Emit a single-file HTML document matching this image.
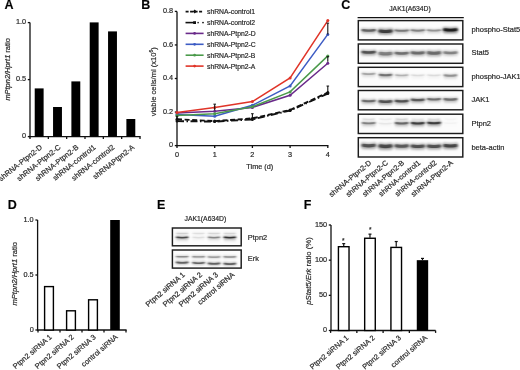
<!DOCTYPE html>
<html><head><meta charset="utf-8"><style>
html,body{margin:0;padding:0;background:#fff;}
body{width:520px;height:370px;overflow:hidden;}
svg{display:block;font-family:"Liberation Sans", sans-serif;will-change:transform;filter:blur(0.3px);}
text{stroke:#333;stroke-width:0.2px;}
</style></head><body>
<svg width="520" height="370" viewBox="0 0 520 370">
<rect width="520" height="370" fill="#fff"/>
<text x="4.6" y="8.5" font-size="12.5" text-anchor="start" font-weight="bold" fill="#000">A</text>
<line x1="30" y1="22.6" x2="30" y2="137.2" stroke="#111" stroke-width="1.3"/>
<line x1="27.8" y1="22.599999999999994" x2="30" y2="22.599999999999994" stroke="#111" stroke-width="1.3"/>
<text x="26.1" y="24.199999999999996" font-size="7.3" text-anchor="end" font-weight="normal" fill="#222">1.0</text>
<line x1="27.8" y1="79.6" x2="30" y2="79.6" stroke="#111" stroke-width="1.3"/>
<text x="26.1" y="81.19999999999999" font-size="7.3" text-anchor="end" font-weight="normal" fill="#222">0.5</text>
<line x1="27.8" y1="136.6" x2="30" y2="136.6" stroke="#111" stroke-width="1.3"/>
<text x="26.1" y="138.2" font-size="7.3" text-anchor="end" font-weight="normal" fill="#222">0</text>
<line x1="29.4" y1="136.6" x2="140.6" y2="136.6" stroke="#111" stroke-width="1.3"/>
<line x1="30.0" y1="136.6" x2="30.0" y2="139.0" stroke="#111" stroke-width="1.3"/>
<line x1="48.33333333333333" y1="136.6" x2="48.33333333333333" y2="139.0" stroke="#111" stroke-width="1.3"/>
<line x1="66.66666666666666" y1="136.6" x2="66.66666666666666" y2="139.0" stroke="#111" stroke-width="1.3"/>
<line x1="85.0" y1="136.6" x2="85.0" y2="139.0" stroke="#111" stroke-width="1.3"/>
<line x1="103.33333333333333" y1="136.6" x2="103.33333333333333" y2="139.0" stroke="#111" stroke-width="1.3"/>
<line x1="121.66666666666666" y1="136.6" x2="121.66666666666666" y2="139.0" stroke="#111" stroke-width="1.3"/>
<line x1="140.0" y1="136.6" x2="140.0" y2="139.0" stroke="#111" stroke-width="1.3"/>
<rect x="34.71666666666666" y="88.4" width="8.9" height="48.19999999999999" fill="#000" stroke="none" stroke-width="0"/>
<text x="42.766666666666666" y="148.2" font-size="7.45" text-anchor="end" font-weight="normal" fill="#222" transform="rotate(-38.5 42.766666666666666 148.2)">shRNA-Ptpn2-D</text>
<rect x="53.05" y="107" width="8.9" height="29.599999999999994" fill="#000" stroke="none" stroke-width="0"/>
<text x="61.1" y="148.2" font-size="7.45" text-anchor="end" font-weight="normal" fill="#222" transform="rotate(-38.5 61.1 148.2)">shRNA-Ptpn2-C</text>
<rect x="71.38333333333333" y="81.4" width="8.9" height="55.19999999999999" fill="#000" stroke="none" stroke-width="0"/>
<text x="79.13333333333333" y="148.2" font-size="7.45" text-anchor="end" font-weight="normal" fill="#222" transform="rotate(-38.5 79.13333333333333 148.2)">shRNA-Ptpn2-B</text>
<rect x="89.71666666666665" y="22.4" width="8.9" height="114.19999999999999" fill="#000" stroke="none" stroke-width="0"/>
<text x="96.26666666666665" y="148.2" font-size="7.45" text-anchor="end" font-weight="normal" fill="#222" transform="rotate(-38.5 96.26666666666665 148.2)">shRNA-control1</text>
<rect x="108.05" y="31.4" width="8.9" height="105.19999999999999" fill="#000" stroke="none" stroke-width="0"/>
<text x="115.1" y="148.2" font-size="7.45" text-anchor="end" font-weight="normal" fill="#222" transform="rotate(-38.5 115.1 148.2)">shRNA-control2</text>
<rect x="126.38333333333331" y="119" width="8.9" height="17.599999999999994" fill="#000" stroke="none" stroke-width="0"/>
<text x="134.83333333333331" y="148.2" font-size="7.45" text-anchor="end" font-weight="normal" fill="#222" transform="rotate(-38.5 134.83333333333331 148.2)">shRNAPtpn2-A</text>
<text x="0" y="0" font-size="7.45" text-anchor="middle" fill="#222" transform="translate(9.8 69.4) rotate(-90)"><tspan font-style="italic">mPtpn2/Hprt1</tspan> ratio</text>
<text x="141.3" y="8.5" font-size="12.5" text-anchor="start" font-weight="bold" fill="#000">B</text>
<line x1="177" y1="11.4" x2="177" y2="146.2" stroke="#111" stroke-width="1.3"/>
<line x1="174.8" y1="145.6" x2="177" y2="145.6" stroke="#111" stroke-width="1.3"/>
<text x="173.1" y="147.2" font-size="7.3" text-anchor="end" font-weight="normal" fill="#222">0</text>
<line x1="174.8" y1="112.04999999999998" x2="177" y2="112.04999999999998" stroke="#111" stroke-width="1.3"/>
<text x="173.1" y="113.64999999999998" font-size="7.3" text-anchor="end" font-weight="normal" fill="#222">0.2</text>
<line x1="174.8" y1="78.49999999999999" x2="177" y2="78.49999999999999" stroke="#111" stroke-width="1.3"/>
<text x="173.1" y="80.09999999999998" font-size="7.3" text-anchor="end" font-weight="normal" fill="#222">0.4</text>
<line x1="174.8" y1="44.95" x2="177" y2="44.95" stroke="#111" stroke-width="1.3"/>
<text x="173.1" y="46.550000000000004" font-size="7.3" text-anchor="end" font-weight="normal" fill="#222">0.6</text>
<line x1="174.8" y1="11.399999999999977" x2="177" y2="11.399999999999977" stroke="#111" stroke-width="1.3"/>
<text x="173.1" y="12.999999999999977" font-size="7.3" text-anchor="end" font-weight="normal" fill="#222">0.8</text>
<line x1="176.4" y1="145.6" x2="328.40000000000003" y2="145.6" stroke="#111" stroke-width="1.3"/>
<line x1="177.0" y1="145.6" x2="177.0" y2="148.0" stroke="#111" stroke-width="1.3"/>
<text x="177.0" y="157.0" font-size="7.3" text-anchor="middle" font-weight="normal" fill="#222">0</text>
<line x1="214.7" y1="145.6" x2="214.7" y2="148.0" stroke="#111" stroke-width="1.3"/>
<text x="214.7" y="157.0" font-size="7.3" text-anchor="middle" font-weight="normal" fill="#222">1</text>
<line x1="252.4" y1="145.6" x2="252.4" y2="148.0" stroke="#111" stroke-width="1.3"/>
<text x="252.4" y="157.0" font-size="7.3" text-anchor="middle" font-weight="normal" fill="#222">2</text>
<line x1="290.1" y1="145.6" x2="290.1" y2="148.0" stroke="#111" stroke-width="1.3"/>
<text x="290.1" y="157.0" font-size="7.3" text-anchor="middle" font-weight="normal" fill="#222">3</text>
<line x1="327.8" y1="145.6" x2="327.8" y2="148.0" stroke="#111" stroke-width="1.3"/>
<text x="327.8" y="157.0" font-size="7.3" text-anchor="middle" font-weight="normal" fill="#222">4</text>
<text x="259.8" y="168.9" font-size="7.3" text-anchor="middle" font-weight="normal" fill="#222">Time (d)</text>
<text x="0" y="0" font-size="7.55" text-anchor="middle" fill="#222" transform="translate(156 81.8) rotate(-90)">viable cells/ml (x10<tspan font-size="5" dy="-3">6</tspan><tspan dy="3">)</tspan></text>
<polyline points="177.0,119.3 214.7,121.1 252.4,118.4 290.1,110.0 327.8,92.6" fill="none" stroke="#111" stroke-width="1.9" stroke-dasharray="5,2.6"/>
<circle cx="177.0" cy="119.3" r="1.5" fill="#111"/>
<circle cx="214.7" cy="121.1" r="1.5" fill="#111"/>
<circle cx="252.4" cy="118.4" r="1.5" fill="#111"/>
<circle cx="290.1" cy="110.0" r="1.5" fill="#111"/>
<circle cx="327.8" cy="92.6" r="1.5" fill="#111"/>
<polyline points="177.0,121.1 214.7,121.6 252.4,119.4 290.1,110.5 327.8,93.6" fill="none" stroke="#111" stroke-width="1.9" stroke-dasharray="7,2.5,1.5,2.5"/>
<circle cx="177.0" cy="121.1" r="1.5" fill="#111"/>
<circle cx="214.7" cy="121.6" r="1.5" fill="#111"/>
<circle cx="252.4" cy="119.4" r="1.5" fill="#111"/>
<circle cx="290.1" cy="110.5" r="1.5" fill="#111"/>
<circle cx="327.8" cy="93.6" r="1.5" fill="#111"/>
<polyline points="177.0,112.9 214.7,111.2 252.4,107.4 290.1,95.3 327.8,63.2" fill="none" stroke="#6a2a8a" stroke-width="1.5"/>
<circle cx="177.0" cy="112.9" r="1.5" fill="#6a2a8a"/>
<circle cx="214.7" cy="111.2" r="1.5" fill="#6a2a8a"/>
<circle cx="252.4" cy="107.4" r="1.5" fill="#6a2a8a"/>
<circle cx="290.1" cy="95.3" r="1.5" fill="#6a2a8a"/>
<circle cx="327.8" cy="63.2" r="1.5" fill="#6a2a8a"/>
<polyline points="177.0,114.6 214.7,116.2 252.4,105.3 290.1,86.0 327.8,34.4" fill="none" stroke="#3d5cc4" stroke-width="1.5"/>
<circle cx="177.0" cy="114.6" r="1.5" fill="#3d5cc4"/>
<circle cx="214.7" cy="116.2" r="1.5" fill="#3d5cc4"/>
<circle cx="252.4" cy="105.3" r="1.5" fill="#3d5cc4"/>
<circle cx="290.1" cy="86.0" r="1.5" fill="#3d5cc4"/>
<circle cx="327.8" cy="34.4" r="1.5" fill="#3d5cc4"/>
<polyline points="177.0,115.4 214.7,113.7 252.4,106.7 290.1,91.9 327.8,55.9" fill="none" stroke="#4b9a4b" stroke-width="1.5"/>
<circle cx="177.0" cy="115.4" r="1.5" fill="#4b9a4b"/>
<circle cx="214.7" cy="113.7" r="1.5" fill="#4b9a4b"/>
<circle cx="252.4" cy="106.7" r="1.5" fill="#4b9a4b"/>
<circle cx="290.1" cy="91.9" r="1.5" fill="#4b9a4b"/>
<circle cx="327.8" cy="55.9" r="1.5" fill="#4b9a4b"/>
<polyline points="177.0,112.4 214.7,107.5 252.4,101.6 290.1,78.0 327.8,20.6" fill="none" stroke="#e03428" stroke-width="1.5"/>
<circle cx="177.0" cy="112.4" r="1.5" fill="#e03428"/>
<circle cx="214.7" cy="107.5" r="1.5" fill="#e03428"/>
<circle cx="252.4" cy="101.6" r="1.5" fill="#e03428"/>
<circle cx="290.1" cy="78.0" r="1.5" fill="#e03428"/>
<circle cx="327.8" cy="20.6" r="1.5" fill="#e03428"/>
<line x1="214.7" y1="110.3725" x2="214.7" y2="104.16575" stroke="#111" stroke-width="1.1"/>
<line x1="213.39999999999998" y1="104.16575" x2="216.0" y2="104.16575" stroke="#111" stroke-width="1.0"/>
<line x1="327.8" y1="34.38174999999998" x2="327.8" y2="23.1425" stroke="#111" stroke-width="1.1"/>
<line x1="326.5" y1="23.1425" x2="329.1" y2="23.1425" stroke="#111" stroke-width="1.0"/>
<line x1="327.8" y1="92.9265" x2="327.8" y2="86.04875" stroke="#111" stroke-width="1.1"/>
<line x1="326.5" y1="86.04875" x2="329.1" y2="86.04875" stroke="#111" stroke-width="1.0"/>
<line x1="327.8" y1="61.724999999999994" x2="327.8" y2="56.692499999999995" stroke="#111" stroke-width="1.1"/>
<line x1="326.5" y1="56.692499999999995" x2="329.1" y2="56.692499999999995" stroke="#111" stroke-width="1.0"/>
<line x1="252.4" y1="120.4375" x2="252.4" y2="113.72749999999999" stroke="#111" stroke-width="1.1"/>
<line x1="251.1" y1="113.72749999999999" x2="253.70000000000002" y2="113.72749999999999" stroke="#111" stroke-width="1.0"/>
<line x1="177.0" y1="118.75999999999999" x2="177.0" y2="116.24374999999999" stroke="#111" stroke-width="1.1"/>
<line x1="175.7" y1="116.24374999999999" x2="178.3" y2="116.24374999999999" stroke="#111" stroke-width="1.0"/>
<line x1="185.6" y1="11.6" x2="203" y2="11.6" stroke="#111" stroke-width="1.6" stroke-dasharray="3,1.5"/>
<path d="M194.7 9.6 L196.7 11.6 L194.7 13.6 L192.7 11.6 Z" fill="#111"/>
<text x="207" y="14.1" font-size="6.8" text-anchor="start" font-weight="normal" fill="#222">shRNA-control1</text>
<line x1="185.5" y1="22.6" x2="194" y2="22.6" stroke="#111" stroke-width="1.6"/>
<rect x="193.2" y="21.200000000000003" width="2.8" height="2.8" fill="#111"/>
<rect x="197.4" y="21.900000000000002" width="1.4" height="1.4" fill="#111"/>
<rect x="202.2" y="21.900000000000002" width="1.6" height="1.4" fill="#111"/>
<text x="207" y="25.1" font-size="6.8" text-anchor="start" font-weight="normal" fill="#222">shRNA-control2</text>
<line x1="185.6" y1="33.4" x2="203.6" y2="33.4" stroke="#6a2a8a" stroke-width="1.6"/>
<circle cx="194.6" cy="33.4" r="1.4" fill="#6a2a8a"/>
<text x="207" y="35.9" font-size="6.8" text-anchor="start" font-weight="normal" fill="#222">shRNA-Ptpn2-D</text>
<line x1="185.6" y1="44.3" x2="203.6" y2="44.3" stroke="#3d5cc4" stroke-width="1.6"/>
<circle cx="194.6" cy="44.3" r="1.4" fill="#3d5cc4"/>
<text x="207" y="46.8" font-size="6.8" text-anchor="start" font-weight="normal" fill="#222">shRNA-Ptpn2-C</text>
<line x1="185.6" y1="55.2" x2="203.6" y2="55.2" stroke="#4b9a4b" stroke-width="1.6"/>
<circle cx="194.6" cy="55.2" r="1.4" fill="#4b9a4b"/>
<text x="207" y="57.7" font-size="6.8" text-anchor="start" font-weight="normal" fill="#222">shRNA-Ptpn2-B</text>
<line x1="185.6" y1="66.1" x2="203.6" y2="66.1" stroke="#e03428" stroke-width="1.6"/>
<circle cx="194.6" cy="66.1" r="1.4" fill="#e03428"/>
<text x="207" y="68.6" font-size="6.8" text-anchor="start" font-weight="normal" fill="#222">shRNA-Ptpn2-A</text>
<text x="341.3" y="8.6" font-size="12.5" text-anchor="start" font-weight="bold" fill="#000">C</text>
<text x="410" y="11.4" font-size="6.8" text-anchor="middle" font-weight="normal" fill="#222">JAK1(A634D)</text>
<line x1="357.6" y1="17.6" x2="463.8" y2="17.6" stroke="#111" stroke-width="1.4"/>
<defs><filter id="bl" filterUnits="userSpaceOnUse" x="0" y="0" width="520" height="370"><feGaussianBlur stdDeviation="0.8 0.5"/></filter><filter id="bl2" filterUnits="userSpaceOnUse" x="0" y="0" width="520" height="370"><feGaussianBlur stdDeviation="1.2 1.2"/></filter></defs>
<rect x="358.3" y="20.599999999999998" width="104.5" height="19.3" fill="#fcfcfc" stroke="#1c1c1c" stroke-width="1.45"/>
<rect x="361.60" y="30.40" width="14.20" height="4.0" fill="#000" fill-opacity="0.099" filter="url(#bl2)"/>
<path d="M362.70 30.15 Q368.70 31.15 374.70 30.15" stroke="#000" stroke-opacity="0.248" stroke-width="4.32" stroke-linecap="round" fill="none" filter="url(#bl2)"/>
<path d="M362.70 30.15 Q368.70 31.15 374.70 30.15" stroke="#000" stroke-opacity="0.468" stroke-width="2.24" stroke-linecap="round" fill="none" filter="url(#bl)"/>
<rect x="378.40" y="31.20" width="14.20" height="4.0" fill="#000" fill-opacity="0.130" filter="url(#bl2)"/>
<path d="M380.10 30.95 Q385.50 31.95 390.90 30.95" stroke="#000" stroke-opacity="0.324" stroke-width="5.94" stroke-linecap="round" fill="none" filter="url(#bl2)"/>
<path d="M380.10 30.95 Q385.50 31.95 390.90 30.95" stroke="#000" stroke-opacity="0.612" stroke-width="3.08" stroke-linecap="round" fill="none" filter="url(#bl)"/>
<rect x="394.60" y="30.60" width="14.20" height="4.0" fill="#000" fill-opacity="0.081" filter="url(#bl2)"/>
<path d="M395.50 30.35 Q401.70 31.35 407.90 30.35" stroke="#000" stroke-opacity="0.203" stroke-width="3.78" stroke-linecap="round" fill="none" filter="url(#bl2)"/>
<path d="M395.50 30.35 Q401.70 31.35 407.90 30.35" stroke="#000" stroke-opacity="0.383" stroke-width="1.96" stroke-linecap="round" fill="none" filter="url(#bl)"/>
<rect x="410.70" y="30.40" width="14.20" height="4.0" fill="#000" fill-opacity="0.076" filter="url(#bl2)"/>
<path d="M411.60 30.15 Q417.80 31.15 424.00 30.15" stroke="#000" stroke-opacity="0.189" stroke-width="3.78" stroke-linecap="round" fill="none" filter="url(#bl2)"/>
<path d="M411.60 30.15 Q417.80 31.15 424.00 30.15" stroke="#000" stroke-opacity="0.357" stroke-width="1.96" stroke-linecap="round" fill="none" filter="url(#bl)"/>
<rect x="426.90" y="30.30" width="14.20" height="4.0" fill="#000" fill-opacity="0.063" filter="url(#bl2)"/>
<path d="M427.60 30.05 Q434.00 31.05 440.40 30.05" stroke="#000" stroke-opacity="0.158" stroke-width="3.24" stroke-linecap="round" fill="none" filter="url(#bl2)"/>
<path d="M427.60 30.05 Q434.00 31.05 440.40 30.05" stroke="#000" stroke-opacity="0.297" stroke-width="1.68" stroke-linecap="round" fill="none" filter="url(#bl)"/>
<rect x="443.30" y="29.90" width="14.20" height="4.0" fill="#000" fill-opacity="0.166" filter="url(#bl2)"/>
<path d="M444.70 29.65 Q450.40 30.65 456.10 29.65" stroke="#000" stroke-opacity="0.414" stroke-width="5.13" stroke-linecap="round" fill="none" filter="url(#bl2)"/>
<path d="M444.70 29.65 Q450.40 30.65 456.10 29.65" stroke="#000" stroke-opacity="0.782" stroke-width="2.66" stroke-linecap="round" fill="none" filter="url(#bl)"/>
<text x="471.4" y="32.3" font-size="7.5" text-anchor="start" font-weight="normal" fill="#222">phospho-Stat5</text>
<rect x="358.3" y="44.0" width="104.5" height="19.3" fill="#fcfcfc" stroke="#1c1c1c" stroke-width="1.45"/>
<rect x="361.60" y="52.30" width="14.20" height="4.0" fill="#000" fill-opacity="0.112" filter="url(#bl2)"/>
<path d="M362.90 52.05 Q368.70 53.05 374.50 52.05" stroke="#000" stroke-opacity="0.279" stroke-width="4.86" stroke-linecap="round" fill="none" filter="url(#bl2)"/>
<path d="M362.90 52.05 Q368.70 53.05 374.50 52.05" stroke="#000" stroke-opacity="0.527" stroke-width="2.52" stroke-linecap="round" fill="none" filter="url(#bl)"/>
<rect x="378.40" y="53.60" width="14.20" height="4.0" fill="#000" fill-opacity="0.076" filter="url(#bl2)"/>
<path d="M380.20 53.35 Q385.50 54.35 390.80 53.35" stroke="#000" stroke-opacity="0.189" stroke-width="6.21" stroke-linecap="round" fill="none" filter="url(#bl2)"/>
<path d="M380.20 53.35 Q385.50 54.35 390.80 53.35" stroke="#000" stroke-opacity="0.357" stroke-width="3.22" stroke-linecap="round" fill="none" filter="url(#bl)"/>
<rect x="394.60" y="53.20" width="14.20" height="4.0" fill="#000" fill-opacity="0.086" filter="url(#bl2)"/>
<path d="M395.90 52.95 Q401.70 53.95 407.50 52.95" stroke="#000" stroke-opacity="0.216" stroke-width="4.86" stroke-linecap="round" fill="none" filter="url(#bl2)"/>
<path d="M395.90 52.95 Q401.70 53.95 407.50 52.95" stroke="#000" stroke-opacity="0.408" stroke-width="2.52" stroke-linecap="round" fill="none" filter="url(#bl)"/>
<rect x="410.70" y="52.80" width="14.20" height="4.0" fill="#000" fill-opacity="0.090" filter="url(#bl2)"/>
<path d="M412.20 52.55 Q417.80 53.55 423.40 52.55" stroke="#000" stroke-opacity="0.225" stroke-width="5.40" stroke-linecap="round" fill="none" filter="url(#bl2)"/>
<path d="M412.20 52.55 Q417.80 53.55 423.40 52.55" stroke="#000" stroke-opacity="0.425" stroke-width="2.80" stroke-linecap="round" fill="none" filter="url(#bl)"/>
<rect x="426.90" y="53.00" width="14.20" height="4.0" fill="#000" fill-opacity="0.090" filter="url(#bl2)"/>
<path d="M428.70 52.75 Q434.00 53.75 439.30 52.75" stroke="#000" stroke-opacity="0.225" stroke-width="6.21" stroke-linecap="round" fill="none" filter="url(#bl2)"/>
<path d="M428.70 52.75 Q434.00 53.75 439.30 52.75" stroke="#000" stroke-opacity="0.425" stroke-width="3.22" stroke-linecap="round" fill="none" filter="url(#bl)"/>
<rect x="443.30" y="52.70" width="14.20" height="4.0" fill="#000" fill-opacity="0.072" filter="url(#bl2)"/>
<path d="M444.60 52.45 Q450.40 53.45 456.20 52.45" stroke="#000" stroke-opacity="0.180" stroke-width="4.86" stroke-linecap="round" fill="none" filter="url(#bl2)"/>
<path d="M444.60 52.45 Q450.40 53.45 456.20 52.45" stroke="#000" stroke-opacity="0.340" stroke-width="2.52" stroke-linecap="round" fill="none" filter="url(#bl)"/>
<text x="471.4" y="54.9" font-size="7.5" text-anchor="start" font-weight="normal" fill="#222">Stat5</text>
<rect x="358.3" y="67.3" width="104.5" height="19.3" fill="#fcfcfc" stroke="#1c1c1c" stroke-width="1.45"/>
<rect x="362.10" y="73.90" width="13.20" height="4.0" fill="#000" fill-opacity="0.050" filter="url(#bl2)"/>
<path d="M362.80 73.65 Q368.70 74.65 374.60 73.65" stroke="#000" stroke-opacity="0.126" stroke-width="3.24" stroke-linecap="round" fill="none" filter="url(#bl2)"/>
<path d="M362.80 73.65 Q368.70 74.65 374.60 73.65" stroke="#000" stroke-opacity="0.238" stroke-width="1.68" stroke-linecap="round" fill="none" filter="url(#bl)"/>
<rect x="378.90" y="75.00" width="13.20" height="4.0" fill="#000" fill-opacity="0.086" filter="url(#bl2)"/>
<path d="M379.90 74.75 Q385.50 75.75 391.10 74.75" stroke="#000" stroke-opacity="0.216" stroke-width="4.05" stroke-linecap="round" fill="none" filter="url(#bl2)"/>
<path d="M379.90 74.75 Q385.50 75.75 391.10 74.75" stroke="#000" stroke-opacity="0.408" stroke-width="2.10" stroke-linecap="round" fill="none" filter="url(#bl)"/>
<rect x="395.10" y="75.20" width="13.20" height="4.0" fill="#000" fill-opacity="0.043" filter="url(#bl2)"/>
<path d="M395.70 74.95 Q401.70 75.95 407.70 74.95" stroke="#000" stroke-opacity="0.108" stroke-width="2.97" stroke-linecap="round" fill="none" filter="url(#bl2)"/>
<path d="M395.70 74.95 Q401.70 75.95 407.70 74.95" stroke="#000" stroke-opacity="0.204" stroke-width="1.54" stroke-linecap="round" fill="none" filter="url(#bl)"/>
<rect x="411.20" y="75.30" width="13.20" height="4.0" fill="#000" fill-opacity="0.018" filter="url(#bl2)"/>
<path d="M411.70 75.05 Q417.80 76.05 423.90 75.05" stroke="#000" stroke-opacity="0.045" stroke-width="2.70" stroke-linecap="round" fill="none" filter="url(#bl2)"/>
<path d="M411.70 75.05 Q417.80 76.05 423.90 75.05" stroke="#000" stroke-opacity="0.085" stroke-width="1.40" stroke-linecap="round" fill="none" filter="url(#bl)"/>
<rect x="427.40" y="75.30" width="13.20" height="4.0" fill="#000" fill-opacity="0.018" filter="url(#bl2)"/>
<path d="M427.90 75.05 Q434.00 76.05 440.10 75.05" stroke="#000" stroke-opacity="0.045" stroke-width="2.70" stroke-linecap="round" fill="none" filter="url(#bl2)"/>
<path d="M427.90 75.05 Q434.00 76.05 440.10 75.05" stroke="#000" stroke-opacity="0.085" stroke-width="1.40" stroke-linecap="round" fill="none" filter="url(#bl)"/>
<rect x="443.80" y="75.50" width="13.20" height="4.0" fill="#000" fill-opacity="0.065" filter="url(#bl2)"/>
<path d="M444.60 75.25 Q450.40 76.25 456.20 75.25" stroke="#000" stroke-opacity="0.162" stroke-width="3.51" stroke-linecap="round" fill="none" filter="url(#bl2)"/>
<path d="M444.60 75.25 Q450.40 76.25 456.20 75.25" stroke="#000" stroke-opacity="0.306" stroke-width="1.82" stroke-linecap="round" fill="none" filter="url(#bl)"/>
<text x="471.4" y="78.9" font-size="7.5" text-anchor="start" font-weight="normal" fill="#222">phospho-JAK1</text>
<rect x="358.3" y="90.5" width="104.5" height="19.3" fill="#fcfcfc" stroke="#1c1c1c" stroke-width="1.45"/>
<rect x="361.80" y="101.00" width="13.80" height="4.0" fill="#000" fill-opacity="0.090" filter="url(#bl2)"/>
<path d="M362.80 100.75 Q368.70 101.75 374.60 100.75" stroke="#000" stroke-opacity="0.225" stroke-width="4.05" stroke-linecap="round" fill="none" filter="url(#bl2)"/>
<path d="M362.80 100.75 Q368.70 101.75 374.60 100.75" stroke="#000" stroke-opacity="0.425" stroke-width="2.10" stroke-linecap="round" fill="none" filter="url(#bl)"/>
<rect x="378.60" y="101.60" width="13.80" height="4.0" fill="#000" fill-opacity="0.112" filter="url(#bl2)"/>
<path d="M379.90 101.35 Q385.50 102.35 391.10 101.35" stroke="#000" stroke-opacity="0.279" stroke-width="4.86" stroke-linecap="round" fill="none" filter="url(#bl2)"/>
<path d="M379.90 101.35 Q385.50 102.35 391.10 101.35" stroke="#000" stroke-opacity="0.527" stroke-width="2.52" stroke-linecap="round" fill="none" filter="url(#bl)"/>
<rect x="394.80" y="101.20" width="13.80" height="4.0" fill="#000" fill-opacity="0.112" filter="url(#bl2)"/>
<path d="M395.90 100.95 Q401.70 101.95 407.50 100.95" stroke="#000" stroke-opacity="0.279" stroke-width="4.32" stroke-linecap="round" fill="none" filter="url(#bl2)"/>
<path d="M395.90 100.95 Q401.70 101.95 407.50 100.95" stroke="#000" stroke-opacity="0.527" stroke-width="2.24" stroke-linecap="round" fill="none" filter="url(#bl)"/>
<rect x="410.90" y="99.90" width="13.80" height="4.0" fill="#000" fill-opacity="0.104" filter="url(#bl2)"/>
<path d="M411.90 99.65 Q417.80 100.65 423.70 99.65" stroke="#000" stroke-opacity="0.261" stroke-width="4.05" stroke-linecap="round" fill="none" filter="url(#bl2)"/>
<path d="M411.90 99.65 Q417.80 100.65 423.70 99.65" stroke="#000" stroke-opacity="0.493" stroke-width="2.10" stroke-linecap="round" fill="none" filter="url(#bl)"/>
<rect x="427.10" y="99.20" width="13.80" height="4.0" fill="#000" fill-opacity="0.090" filter="url(#bl2)"/>
<path d="M428.00 98.95 Q434.00 99.95 440.00 98.95" stroke="#000" stroke-opacity="0.225" stroke-width="3.78" stroke-linecap="round" fill="none" filter="url(#bl2)"/>
<path d="M428.00 98.95 Q434.00 99.95 440.00 98.95" stroke="#000" stroke-opacity="0.425" stroke-width="1.96" stroke-linecap="round" fill="none" filter="url(#bl)"/>
<rect x="443.50" y="99.40" width="13.80" height="4.0" fill="#000" fill-opacity="0.090" filter="url(#bl2)"/>
<path d="M444.50 99.15 Q450.40 100.15 456.30 99.15" stroke="#000" stroke-opacity="0.225" stroke-width="4.05" stroke-linecap="round" fill="none" filter="url(#bl2)"/>
<path d="M444.50 99.15 Q450.40 100.15 456.30 99.15" stroke="#000" stroke-opacity="0.425" stroke-width="2.10" stroke-linecap="round" fill="none" filter="url(#bl)"/>
<text x="471.4" y="102.2" font-size="7.5" text-anchor="start" font-weight="normal" fill="#222">JAK1</text>
<rect x="358.3" y="114.2" width="104.5" height="19.3" fill="#fcfcfc" stroke="#1c1c1c" stroke-width="1.45"/>
<rect x="361.95" y="123.20" width="13.50" height="4.0" fill="#000" fill-opacity="0.076" filter="url(#bl2)"/>
<path d="M362.75 122.95 Q368.70 123.95 374.65 122.95" stroke="#000" stroke-opacity="0.189" stroke-width="3.51" stroke-linecap="round" fill="none" filter="url(#bl2)"/>
<path d="M362.75 122.95 Q368.70 123.95 374.65 122.95" stroke="#000" stroke-opacity="0.357" stroke-width="1.82" stroke-linecap="round" fill="none" filter="url(#bl)"/>
<rect x="378.75" y="123.50" width="13.50" height="4.0" fill="#000" fill-opacity="0.013" filter="url(#bl2)"/>
<path d="M379.25 123.25 Q385.50 124.25 391.75 123.25" stroke="#000" stroke-opacity="0.032" stroke-width="2.70" stroke-linecap="round" fill="none" filter="url(#bl2)"/>
<path d="M379.25 123.25 Q385.50 124.25 391.75 123.25" stroke="#000" stroke-opacity="0.060" stroke-width="1.40" stroke-linecap="round" fill="none" filter="url(#bl)"/>
<rect x="394.95" y="123.30" width="13.50" height="4.0" fill="#000" fill-opacity="0.094" filter="url(#bl2)"/>
<path d="M395.95 123.05 Q401.70 124.05 407.45 123.05" stroke="#000" stroke-opacity="0.234" stroke-width="4.05" stroke-linecap="round" fill="none" filter="url(#bl2)"/>
<path d="M395.95 123.05 Q401.70 124.05 407.45 123.05" stroke="#000" stroke-opacity="0.442" stroke-width="2.10" stroke-linecap="round" fill="none" filter="url(#bl)"/>
<rect x="411.05" y="123.20" width="13.50" height="4.0" fill="#000" fill-opacity="0.130" filter="url(#bl2)"/>
<path d="M412.05 122.95 Q417.80 123.95 423.55 122.95" stroke="#000" stroke-opacity="0.324" stroke-width="4.05" stroke-linecap="round" fill="none" filter="url(#bl2)"/>
<path d="M412.05 122.95 Q417.80 123.95 423.55 122.95" stroke="#000" stroke-opacity="0.612" stroke-width="2.10" stroke-linecap="round" fill="none" filter="url(#bl)"/>
<rect x="427.25" y="123.00" width="13.50" height="4.0" fill="#000" fill-opacity="0.130" filter="url(#bl2)"/>
<path d="M428.25 122.75 Q434.00 123.75 439.75 122.75" stroke="#000" stroke-opacity="0.324" stroke-width="4.05" stroke-linecap="round" fill="none" filter="url(#bl2)"/>
<path d="M428.25 122.75 Q434.00 123.75 439.75 122.75" stroke="#000" stroke-opacity="0.612" stroke-width="2.10" stroke-linecap="round" fill="none" filter="url(#bl)"/>
<rect x="443.65" y="123.00" width="13.50" height="4.0" fill="#000" fill-opacity="0.005" filter="url(#bl2)"/>
<path d="M444.15 122.75 Q450.40 123.75 456.65 122.75" stroke="#000" stroke-opacity="0.013" stroke-width="2.70" stroke-linecap="round" fill="none" filter="url(#bl2)"/>
<path d="M444.15 122.75 Q450.40 123.75 456.65 122.75" stroke="#000" stroke-opacity="0.025" stroke-width="1.40" stroke-linecap="round" fill="none" filter="url(#bl)"/>
<path d="M363.20 118.95 Q368.70 119.95 374.20 118.95" stroke="#000" stroke-opacity="0.045" stroke-width="2.70" stroke-linecap="round" fill="none" filter="url(#bl2)"/>
<path d="M363.20 118.95 Q368.70 119.95 374.20 118.95" stroke="#000" stroke-opacity="0.085" stroke-width="1.40" stroke-linecap="round" fill="none" filter="url(#bl)"/>
<path d="M380.00 118.95 Q385.50 119.95 391.00 118.95" stroke="#000" stroke-opacity="0.027" stroke-width="2.70" stroke-linecap="round" fill="none" filter="url(#bl2)"/>
<path d="M380.00 118.95 Q385.50 119.95 391.00 118.95" stroke="#000" stroke-opacity="0.051" stroke-width="1.40" stroke-linecap="round" fill="none" filter="url(#bl)"/>
<path d="M396.20 118.95 Q401.70 119.95 407.20 118.95" stroke="#000" stroke-opacity="0.054" stroke-width="2.70" stroke-linecap="round" fill="none" filter="url(#bl2)"/>
<path d="M396.20 118.95 Q401.70 119.95 407.20 118.95" stroke="#000" stroke-opacity="0.102" stroke-width="1.40" stroke-linecap="round" fill="none" filter="url(#bl)"/>
<path d="M412.30 118.95 Q417.80 119.95 423.30 118.95" stroke="#000" stroke-opacity="0.032" stroke-width="2.70" stroke-linecap="round" fill="none" filter="url(#bl2)"/>
<path d="M412.30 118.95 Q417.80 119.95 423.30 118.95" stroke="#000" stroke-opacity="0.060" stroke-width="1.40" stroke-linecap="round" fill="none" filter="url(#bl)"/>
<path d="M428.50 118.95 Q434.00 119.95 439.50 118.95" stroke="#000" stroke-opacity="0.045" stroke-width="2.70" stroke-linecap="round" fill="none" filter="url(#bl2)"/>
<path d="M428.50 118.95 Q434.00 119.95 439.50 118.95" stroke="#000" stroke-opacity="0.085" stroke-width="1.40" stroke-linecap="round" fill="none" filter="url(#bl)"/>
<path d="M444.90 118.95 Q450.40 119.95 455.90 118.95" stroke="#000" stroke-opacity="0.013" stroke-width="2.70" stroke-linecap="round" fill="none" filter="url(#bl2)"/>
<path d="M444.90 118.95 Q450.40 119.95 455.90 118.95" stroke="#000" stroke-opacity="0.025" stroke-width="1.40" stroke-linecap="round" fill="none" filter="url(#bl)"/>
<text x="471.4" y="125.5" font-size="7.5" text-anchor="start" font-weight="normal" fill="#222">Ptpn2</text>
<rect x="358.3" y="137.7" width="104.5" height="19.3" fill="#fcfcfc" stroke="#1c1c1c" stroke-width="1.45"/>
<rect x="361.60" y="145.60" width="14.20" height="4.0" fill="#000" fill-opacity="0.112" filter="url(#bl2)"/>
<path d="M363.30 145.35 Q368.70 146.35 374.10 145.35" stroke="#000" stroke-opacity="0.279" stroke-width="5.94" stroke-linecap="round" fill="none" filter="url(#bl2)"/>
<path d="M363.30 145.35 Q368.70 146.35 374.10 145.35" stroke="#000" stroke-opacity="0.527" stroke-width="3.08" stroke-linecap="round" fill="none" filter="url(#bl)"/>
<rect x="378.40" y="146.20" width="14.20" height="4.0" fill="#000" fill-opacity="0.119" filter="url(#bl2)"/>
<path d="M380.30 145.95 Q385.50 146.95 390.70 145.95" stroke="#000" stroke-opacity="0.297" stroke-width="6.48" stroke-linecap="round" fill="none" filter="url(#bl2)"/>
<path d="M380.30 145.95 Q385.50 146.95 390.70 145.95" stroke="#000" stroke-opacity="0.561" stroke-width="3.36" stroke-linecap="round" fill="none" filter="url(#bl)"/>
<rect x="394.60" y="146.00" width="14.20" height="4.0" fill="#000" fill-opacity="0.104" filter="url(#bl2)"/>
<path d="M396.10 145.75 Q401.70 146.75 407.30 145.75" stroke="#000" stroke-opacity="0.261" stroke-width="5.40" stroke-linecap="round" fill="none" filter="url(#bl2)"/>
<path d="M396.10 145.75 Q401.70 146.75 407.30 145.75" stroke="#000" stroke-opacity="0.493" stroke-width="2.80" stroke-linecap="round" fill="none" filter="url(#bl)"/>
<rect x="410.70" y="146.30" width="14.20" height="4.0" fill="#000" fill-opacity="0.112" filter="url(#bl2)"/>
<path d="M412.30 146.05 Q417.80 147.05 423.30 146.05" stroke="#000" stroke-opacity="0.279" stroke-width="5.67" stroke-linecap="round" fill="none" filter="url(#bl2)"/>
<path d="M412.30 146.05 Q417.80 147.05 423.30 146.05" stroke="#000" stroke-opacity="0.527" stroke-width="2.94" stroke-linecap="round" fill="none" filter="url(#bl)"/>
<rect x="426.90" y="146.20" width="14.20" height="4.0" fill="#000" fill-opacity="0.112" filter="url(#bl2)"/>
<path d="M428.50 145.95 Q434.00 146.95 439.50 145.95" stroke="#000" stroke-opacity="0.279" stroke-width="5.67" stroke-linecap="round" fill="none" filter="url(#bl2)"/>
<path d="M428.50 145.95 Q434.00 146.95 439.50 145.95" stroke="#000" stroke-opacity="0.527" stroke-width="2.94" stroke-linecap="round" fill="none" filter="url(#bl)"/>
<rect x="443.30" y="145.80" width="14.20" height="4.0" fill="#000" fill-opacity="0.122" filter="url(#bl2)"/>
<path d="M445.00 145.55 Q450.40 146.55 455.80 145.55" stroke="#000" stroke-opacity="0.306" stroke-width="5.94" stroke-linecap="round" fill="none" filter="url(#bl2)"/>
<path d="M445.00 145.55 Q450.40 146.55 455.80 145.55" stroke="#000" stroke-opacity="0.578" stroke-width="3.08" stroke-linecap="round" fill="none" filter="url(#bl)"/>
<text x="471.4" y="149.70000000000002" font-size="7.5" text-anchor="start" font-weight="normal" fill="#222">beta-actin</text>
<text x="371.7" y="163.6" font-size="7.3" text-anchor="end" font-weight="normal" fill="#222" transform="rotate(-40 371.7 163.6)">shRNA-Ptpn2-D</text>
<text x="388.5" y="163.6" font-size="7.3" text-anchor="end" font-weight="normal" fill="#222" transform="rotate(-40 388.5 163.6)">shRNA-Ptpn2-C</text>
<text x="404.7" y="163.6" font-size="7.3" text-anchor="end" font-weight="normal" fill="#222" transform="rotate(-40 404.7 163.6)">shRNA-Ptpn2-B</text>
<text x="420.8" y="163.6" font-size="7.3" text-anchor="end" font-weight="normal" fill="#222" transform="rotate(-40 420.8 163.6)">shRNA-control1</text>
<text x="437.0" y="163.6" font-size="7.3" text-anchor="end" font-weight="normal" fill="#222" transform="rotate(-40 437.0 163.6)">shRNA-control2</text>
<text x="453.4" y="163.6" font-size="7.3" text-anchor="end" font-weight="normal" fill="#222" transform="rotate(-40 453.4 163.6)">shRNA-Ptpn2-A</text>
<text x="7.8" y="208.5" font-size="12.5" text-anchor="start" font-weight="bold" fill="#000">D</text>
<line x1="37.6" y1="220" x2="37.6" y2="330.6" stroke="#111" stroke-width="1.3"/>
<line x1="35.4" y1="220.0" x2="37.6" y2="220.0" stroke="#111" stroke-width="1.3"/>
<text x="33.7" y="221.6" font-size="7.3" text-anchor="end" font-weight="normal" fill="#222">1.0</text>
<line x1="35.4" y1="275.0" x2="37.6" y2="275.0" stroke="#111" stroke-width="1.3"/>
<text x="33.7" y="276.6" font-size="7.3" text-anchor="end" font-weight="normal" fill="#222">0.5</text>
<line x1="35.4" y1="330" x2="37.6" y2="330" stroke="#111" stroke-width="1.3"/>
<text x="33.7" y="331.6" font-size="7.3" text-anchor="end" font-weight="normal" fill="#222">0</text>
<line x1="37.0" y1="330" x2="126.6" y2="330" stroke="#111" stroke-width="1.3"/>
<line x1="38" y1="330" x2="38" y2="332.4" stroke="#111" stroke-width="1.3"/>
<line x1="60" y1="330" x2="60" y2="332.4" stroke="#111" stroke-width="1.3"/>
<line x1="82" y1="330" x2="82" y2="332.4" stroke="#111" stroke-width="1.3"/>
<line x1="104" y1="330" x2="104" y2="332.4" stroke="#111" stroke-width="1.3"/>
<line x1="126" y1="330" x2="126" y2="332.4" stroke="#111" stroke-width="1.3"/>
<rect x="44.6" y="286.6" width="8.8" height="43.4" fill="#fff" stroke="#000" stroke-width="1.4"/>
<text x="52.4" y="337.8" font-size="7.45" text-anchor="end" font-weight="normal" fill="#222" transform="rotate(-40.5 52.4 337.8)">Ptpn2 siRNA 1</text>
<rect x="66.6" y="310.8" width="8.8" height="19.20000000000001" fill="#fff" stroke="#000" stroke-width="1.4"/>
<text x="74.4" y="337.8" font-size="7.45" text-anchor="end" font-weight="normal" fill="#222" transform="rotate(-40.5 74.4 337.8)">Ptpn2 siRNA 2</text>
<rect x="88.6" y="299.8" width="8.8" height="30.20000000000001" fill="#fff" stroke="#000" stroke-width="1.4"/>
<text x="96.4" y="337.8" font-size="7.45" text-anchor="end" font-weight="normal" fill="#222" transform="rotate(-40.5 96.4 337.8)">Ptpn2 siRNA 3</text>
<rect x="110.2" y="220.0" width="9.6" height="110.0" fill="#000" stroke="none" stroke-width="0"/>
<text x="118.4" y="337.8" font-size="7.45" text-anchor="end" font-weight="normal" fill="#222" transform="rotate(-40.5 118.4 337.8)">control siRNA</text>
<text x="0" y="0" font-size="7.55" text-anchor="middle" fill="#222" transform="translate(17 273.8) rotate(-90)"><tspan font-style="italic">mPtpn2/Hprt1</tspan> ratio</text>
<text x="157" y="209.1" font-size="12.5" text-anchor="start" font-weight="bold" fill="#000">E</text>
<text x="205.4" y="220.5" font-size="6.8" text-anchor="middle" font-weight="normal" fill="#222">JAK1(A634D)</text>
<rect x="172.4" y="228.0" width="68.8" height="17.8" fill="#fcfcfc" stroke="#1c1c1c" stroke-width="1.45"/>
<rect x="172.4" y="250.0" width="68.8" height="18.1" fill="#fcfcfc" stroke="#1c1c1c" stroke-width="1.45"/>
<path d="M176.85 233.30 Q182.20 233.70 187.55 233.30" stroke="#000" stroke-opacity="0.068" stroke-width="2.43" stroke-linecap="round" fill="none" filter="url(#bl2)"/>
<path d="M176.85 233.30 Q182.20 233.70 187.55 233.30" stroke="#000" stroke-opacity="0.128" stroke-width="1.26" stroke-linecap="round" fill="none" filter="url(#bl)"/>
<rect x="176.30" y="237.50" width="11.80" height="4" fill="#000" fill-opacity="0.084" filter="url(#bl2)"/>
<path d="M176.80 237.30 Q182.20 238.10 187.60 237.30" stroke="#000" stroke-opacity="0.315" stroke-width="2.70" stroke-linecap="round" fill="none" filter="url(#bl2)"/>
<path d="M176.80 237.30 Q182.20 238.10 187.60 237.30" stroke="#000" stroke-opacity="0.595" stroke-width="1.40" stroke-linecap="round" fill="none" filter="url(#bl)"/>
<path d="M193.25 233.30 Q198.60 233.70 203.95 233.30" stroke="#000" stroke-opacity="0.045" stroke-width="2.43" stroke-linecap="round" fill="none" filter="url(#bl2)"/>
<path d="M193.25 233.30 Q198.60 233.70 203.95 233.30" stroke="#000" stroke-opacity="0.085" stroke-width="1.26" stroke-linecap="round" fill="none" filter="url(#bl)"/>
<rect x="192.70" y="237.50" width="11.80" height="4" fill="#000" fill-opacity="0.012" filter="url(#bl2)"/>
<path d="M193.20 237.30 Q198.60 238.10 204.00 237.30" stroke="#000" stroke-opacity="0.045" stroke-width="2.70" stroke-linecap="round" fill="none" filter="url(#bl2)"/>
<path d="M193.20 237.30 Q198.60 238.10 204.00 237.30" stroke="#000" stroke-opacity="0.085" stroke-width="1.40" stroke-linecap="round" fill="none" filter="url(#bl)"/>
<path d="M208.65 233.30 Q214.00 233.70 219.35 233.30" stroke="#000" stroke-opacity="0.059" stroke-width="2.43" stroke-linecap="round" fill="none" filter="url(#bl2)"/>
<path d="M208.65 233.30 Q214.00 233.70 219.35 233.30" stroke="#000" stroke-opacity="0.111" stroke-width="1.26" stroke-linecap="round" fill="none" filter="url(#bl)"/>
<rect x="208.10" y="237.50" width="11.80" height="4" fill="#000" fill-opacity="0.050" filter="url(#bl2)"/>
<path d="M208.60 237.30 Q214.00 238.10 219.40 237.30" stroke="#000" stroke-opacity="0.189" stroke-width="2.70" stroke-linecap="round" fill="none" filter="url(#bl2)"/>
<path d="M208.60 237.30 Q214.00 238.10 219.40 237.30" stroke="#000" stroke-opacity="0.357" stroke-width="1.40" stroke-linecap="round" fill="none" filter="url(#bl)"/>
<path d="M224.45 233.30 Q229.80 233.70 235.15 233.30" stroke="#000" stroke-opacity="0.059" stroke-width="2.43" stroke-linecap="round" fill="none" filter="url(#bl2)"/>
<path d="M224.45 233.30 Q229.80 233.70 235.15 233.30" stroke="#000" stroke-opacity="0.111" stroke-width="1.26" stroke-linecap="round" fill="none" filter="url(#bl)"/>
<rect x="223.90" y="237.50" width="11.80" height="4" fill="#000" fill-opacity="0.098" filter="url(#bl2)"/>
<path d="M224.40 237.30 Q229.80 238.10 235.20 237.30" stroke="#000" stroke-opacity="0.369" stroke-width="2.70" stroke-linecap="round" fill="none" filter="url(#bl2)"/>
<path d="M224.40 237.30 Q229.80 238.10 235.20 237.30" stroke="#000" stroke-opacity="0.697" stroke-width="1.40" stroke-linecap="round" fill="none" filter="url(#bl)"/>
<path d="M176.60 256.60 Q182.20 257.00 187.80 256.60" stroke="#000" stroke-opacity="0.189" stroke-width="2.70" stroke-linecap="round" fill="none" filter="url(#bl2)"/>
<path d="M176.60 256.60 Q182.20 257.00 187.80 256.60" stroke="#000" stroke-opacity="0.357" stroke-width="1.40" stroke-linecap="round" fill="none" filter="url(#bl)"/>
<path d="M176.80 262.35 Q182.20 263.35 187.60 262.35" stroke="#000" stroke-opacity="0.261" stroke-width="3.24" stroke-linecap="round" fill="none" filter="url(#bl2)"/>
<path d="M176.80 262.35 Q182.20 263.35 187.60 262.35" stroke="#000" stroke-opacity="0.493" stroke-width="1.68" stroke-linecap="round" fill="none" filter="url(#bl)"/>
<path d="M193.00 256.70 Q198.60 257.10 204.20 256.70" stroke="#000" stroke-opacity="0.189" stroke-width="2.70" stroke-linecap="round" fill="none" filter="url(#bl2)"/>
<path d="M193.00 256.70 Q198.60 257.10 204.20 256.70" stroke="#000" stroke-opacity="0.357" stroke-width="1.40" stroke-linecap="round" fill="none" filter="url(#bl)"/>
<path d="M193.20 262.75 Q198.60 263.75 204.00 262.75" stroke="#000" stroke-opacity="0.261" stroke-width="3.24" stroke-linecap="round" fill="none" filter="url(#bl2)"/>
<path d="M193.20 262.75 Q198.60 263.75 204.00 262.75" stroke="#000" stroke-opacity="0.493" stroke-width="1.68" stroke-linecap="round" fill="none" filter="url(#bl)"/>
<path d="M208.40 256.90 Q214.00 257.30 219.60 256.90" stroke="#000" stroke-opacity="0.189" stroke-width="2.70" stroke-linecap="round" fill="none" filter="url(#bl2)"/>
<path d="M208.40 256.90 Q214.00 257.30 219.60 256.90" stroke="#000" stroke-opacity="0.357" stroke-width="1.40" stroke-linecap="round" fill="none" filter="url(#bl)"/>
<path d="M208.60 263.35 Q214.00 264.35 219.40 263.35" stroke="#000" stroke-opacity="0.261" stroke-width="3.24" stroke-linecap="round" fill="none" filter="url(#bl2)"/>
<path d="M208.60 263.35 Q214.00 264.35 219.40 263.35" stroke="#000" stroke-opacity="0.493" stroke-width="1.68" stroke-linecap="round" fill="none" filter="url(#bl)"/>
<path d="M224.20 256.80 Q229.80 257.20 235.40 256.80" stroke="#000" stroke-opacity="0.189" stroke-width="2.70" stroke-linecap="round" fill="none" filter="url(#bl2)"/>
<path d="M224.20 256.80 Q229.80 257.20 235.40 256.80" stroke="#000" stroke-opacity="0.357" stroke-width="1.40" stroke-linecap="round" fill="none" filter="url(#bl)"/>
<path d="M224.40 263.55 Q229.80 264.55 235.20 263.55" stroke="#000" stroke-opacity="0.261" stroke-width="3.24" stroke-linecap="round" fill="none" filter="url(#bl2)"/>
<path d="M224.40 263.55 Q229.80 264.55 235.20 263.55" stroke="#000" stroke-opacity="0.493" stroke-width="1.68" stroke-linecap="round" fill="none" filter="url(#bl)"/>
<text x="247.8" y="239.5" font-size="7.4" text-anchor="start" font-weight="normal" fill="#222">Ptpn2</text>
<text x="247.8" y="261.3" font-size="7.4" text-anchor="start" font-weight="normal" fill="#222">Erk</text>
<text x="185.4" y="275.5" font-size="7.5" text-anchor="end" font-weight="normal" fill="#222" transform="rotate(-40.5 185.4 275.5)">Ptpn2 siRNA 1</text>
<text x="202.6" y="275.5" font-size="7.5" text-anchor="end" font-weight="normal" fill="#222" transform="rotate(-40.5 202.6 275.5)">Ptpn2 siRNA 2</text>
<text x="218.6" y="275.5" font-size="7.5" text-anchor="end" font-weight="normal" fill="#222" transform="rotate(-40.5 218.6 275.5)">Ptpn2 siRNA 3</text>
<text x="235.0" y="275.5" font-size="7.5" text-anchor="end" font-weight="normal" fill="#222" transform="rotate(-40.5 235.0 275.5)">control siRNA</text>
<text x="303.8" y="208.5" font-size="12.5" text-anchor="start" font-weight="bold" fill="#000">F</text>
<line x1="331" y1="225" x2="331" y2="331.1" stroke="#111" stroke-width="1.3"/>
<line x1="328.8" y1="330.5" x2="331" y2="330.5" stroke="#111" stroke-width="1.3"/>
<text x="327.1" y="332.1" font-size="7.3" text-anchor="end" font-weight="normal" fill="#222">0</text>
<line x1="328.8" y1="295.3333333333333" x2="331" y2="295.3333333333333" stroke="#111" stroke-width="1.3"/>
<text x="327.1" y="296.93333333333334" font-size="7.3" text-anchor="end" font-weight="normal" fill="#222">50</text>
<line x1="328.8" y1="260.16666666666663" x2="331" y2="260.16666666666663" stroke="#111" stroke-width="1.3"/>
<text x="327.1" y="261.76666666666665" font-size="7.3" text-anchor="end" font-weight="normal" fill="#222">100</text>
<line x1="328.8" y1="225.0" x2="331" y2="225.0" stroke="#111" stroke-width="1.3"/>
<text x="327.1" y="226.6" font-size="7.3" text-anchor="end" font-weight="normal" fill="#222">150</text>
<line x1="330.4" y1="330.5" x2="435.6" y2="330.5" stroke="#111" stroke-width="1.3"/>
<line x1="330.6" y1="330.5" x2="330.6" y2="332.9" stroke="#111" stroke-width="1.3"/>
<line x1="356.85" y1="330.5" x2="356.85" y2="332.9" stroke="#111" stroke-width="1.3"/>
<line x1="383.1" y1="330.5" x2="383.1" y2="332.9" stroke="#111" stroke-width="1.3"/>
<line x1="409.35" y1="330.5" x2="409.35" y2="332.9" stroke="#111" stroke-width="1.3"/>
<line x1="435.6" y1="330.5" x2="435.6" y2="332.9" stroke="#111" stroke-width="1.3"/>
<line x1="343.725" y1="243.63833333333332" x2="343.725" y2="246.1" stroke="#111" stroke-width="1.2"/>
<line x1="342.225" y1="243.63833333333332" x2="345.225" y2="243.63833333333332" stroke="#111" stroke-width="1.2"/>
<rect x="338.425" y="246.7" width="10.6" height="83.80000000000001" fill="#fff" stroke="#000" stroke-width="1.4"/>
<text x="349.125" y="338.6" font-size="7.4" text-anchor="end" font-weight="normal" fill="#222" transform="rotate(-40.5 349.125 338.6)">Ptpn2 siRNA 1</text>
<line x1="369.975" y1="234.14333333333332" x2="369.975" y2="237.66" stroke="#111" stroke-width="1.2"/>
<line x1="368.475" y1="234.14333333333332" x2="371.475" y2="234.14333333333332" stroke="#111" stroke-width="1.2"/>
<rect x="364.675" y="238.26" width="10.6" height="92.24000000000001" fill="#fff" stroke="#000" stroke-width="1.4"/>
<text x="375.375" y="338.6" font-size="7.4" text-anchor="end" font-weight="normal" fill="#222" transform="rotate(-40.5 375.375 338.6)">Ptpn2 siRNA 2</text>
<line x1="396.225" y1="241.52833333333334" x2="396.225" y2="246.80333333333334" stroke="#111" stroke-width="1.2"/>
<line x1="394.725" y1="241.52833333333334" x2="397.725" y2="241.52833333333334" stroke="#111" stroke-width="1.2"/>
<rect x="390.925" y="247.40333333333334" width="10.6" height="83.09666666666666" fill="#fff" stroke="#000" stroke-width="1.4"/>
<text x="401.625" y="338.6" font-size="7.4" text-anchor="end" font-weight="normal" fill="#222" transform="rotate(-40.5 401.625 338.6)">Ptpn2 siRNA 3</text>
<line x1="422.475" y1="258.4083333333333" x2="422.475" y2="260.16666666666663" stroke="#111" stroke-width="1.2"/>
<line x1="420.975" y1="258.4083333333333" x2="423.975" y2="258.4083333333333" stroke="#111" stroke-width="1.2"/>
<rect x="416.77500000000003" y="260.16666666666663" width="11.4" height="70.33333333333337" fill="#000" stroke="none" stroke-width="0"/>
<text x="427.875" y="338.6" font-size="7.4" text-anchor="end" font-weight="normal" fill="#222" transform="rotate(-40.5 427.875 338.6)">control siRNA</text>
<text x="343.2" y="242.6" font-size="6.5" text-anchor="middle" font-weight="normal" fill="#222">*</text>
<text x="370.2" y="231.8" font-size="6.5" text-anchor="middle" font-weight="normal" fill="#222">*</text>
<text x="0" y="0" font-size="7.75" text-anchor="middle" fill="#222" transform="translate(310.5 271) rotate(-90)"><tspan font-style="italic">pStat5/Erk</tspan> ratio (%)</text>
</svg>
</body></html>
